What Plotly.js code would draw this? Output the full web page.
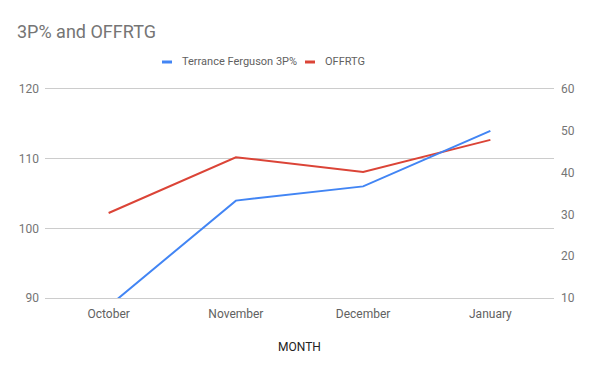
<!DOCTYPE html>
<html>
<head>
<meta charset="utf-8">
<script src="https://cdn.plot.ly/plotly-3.0.1.min.js"></script>
<style>html,body{margin:0;padding:0;background:#fff;}#chart{width:600px;height:371px;}</style>
</head>
<body>
<div id="chart"></div>
<script>
const months = ["October", "November", "December", "January"];
const ferguson3P = [8.0, 33.3, 36.7, 50.0];
const offrtg = [102.2, 110.2, 108.1, 112.7];
const seriesNames = ["Terrance Ferguson 3P%", "OFFRTG"];
const seriesColors = ["#4285F4", "#DB4437"];
const leftTicks = [90, 100, 110, 120];
const rightTicks = [10, 20, 30, 40, 50, 60];

const traces = [
  {x: months, y: ferguson3P, name: seriesNames[0], type: "scatter", mode: "lines",
   yaxis: "y2", line: {color: seriesColors[0], width: 2}},
  {x: months, y: offrtg, name: seriesNames[1], type: "scatter", mode: "lines",
   yaxis: "y", line: {color: seriesColors[1], width: 2}}
];

// custom legend (small swatches like the reference)
const W = 509, L = 45, PT = 89, PH = 209;
const px = v => (v - L) / W;
const py = v => 1 + (PT - v) / PH;
const legendY = 62;
const legendItems = [{sx: 162, tx: 180}, {sx: 305, tx: 323}];
const shapes = [], annotations = [];
legendItems.forEach((it, i) => {
  shapes.push({type: "rect", xref: "paper", yref: "paper", x0: px(it.sx), x1: px(it.sx + 10),
               y0: py(legendY + 1.5), y1: py(legendY - 1.5), fillcolor: seriesColors[i], line: {width: 0}});
  annotations.push({xref: "paper", yref: "paper", x: px(it.tx), y: py(legendY), xanchor: "left", yanchor: "middle",
                    showarrow: false, text: seriesNames[i], font: {size: 11, color: "#616161"}});
});

const layout = {
  width: 600, height: 371,
  margin: {l: 45, r: 46, t: 89, b: 73},
  paper_bgcolor: "#fff", plot_bgcolor: "#fff",
  font: {family: "Roboto, Arial, sans-serif", size: 12, color: "#757575"},
  title: {text: "3P% and OFFRTG", x: 17 / 600, xref: "container", xanchor: "left", y: 1 - 31.5 / 371, yref: "container",
          yanchor: "middle", font: {size: 18, color: "#757575"}},
  showlegend: false,
  shapes: shapes,
  annotations: annotations,
  xaxis: {type: "category", range: [-0.5, 3.5], showgrid: false, zeroline: false,
          showline: true, mirror: true, linecolor: "#cccccc", linewidth: 1,
          ticks: "", ticklabelstandoff: 5, tickfont: {size: 12, color: "#616161"},
          title: {text: "MONTH", font: {size: 12, color: "#222"}, standoff: 22}},
  yaxis: {range: [90, 120], tickvals: leftTicks, ticktext: leftTicks.map(String), showgrid: true, gridcolor: "#cccccc",
          zeroline: false, showline: false, ticks: "", ticklabelstandoff: 5, tickfont: {size: 12, color: "#757575"}},
  yaxis2: {range: [10, 60], tickvals: rightTicks, ticktext: rightTicks.map(String),
           overlaying: "y", side: "right", showgrid: false, zeroline: false, showline: false, ticks: "",
           ticklabelstandoff: 6, tickfont: {size: 12, color: "#757575"}}
};

Plotly.newPlot("chart", traces, layout, {displayModeBar: false, staticPlot: true});
</script>
</body>
</html>
